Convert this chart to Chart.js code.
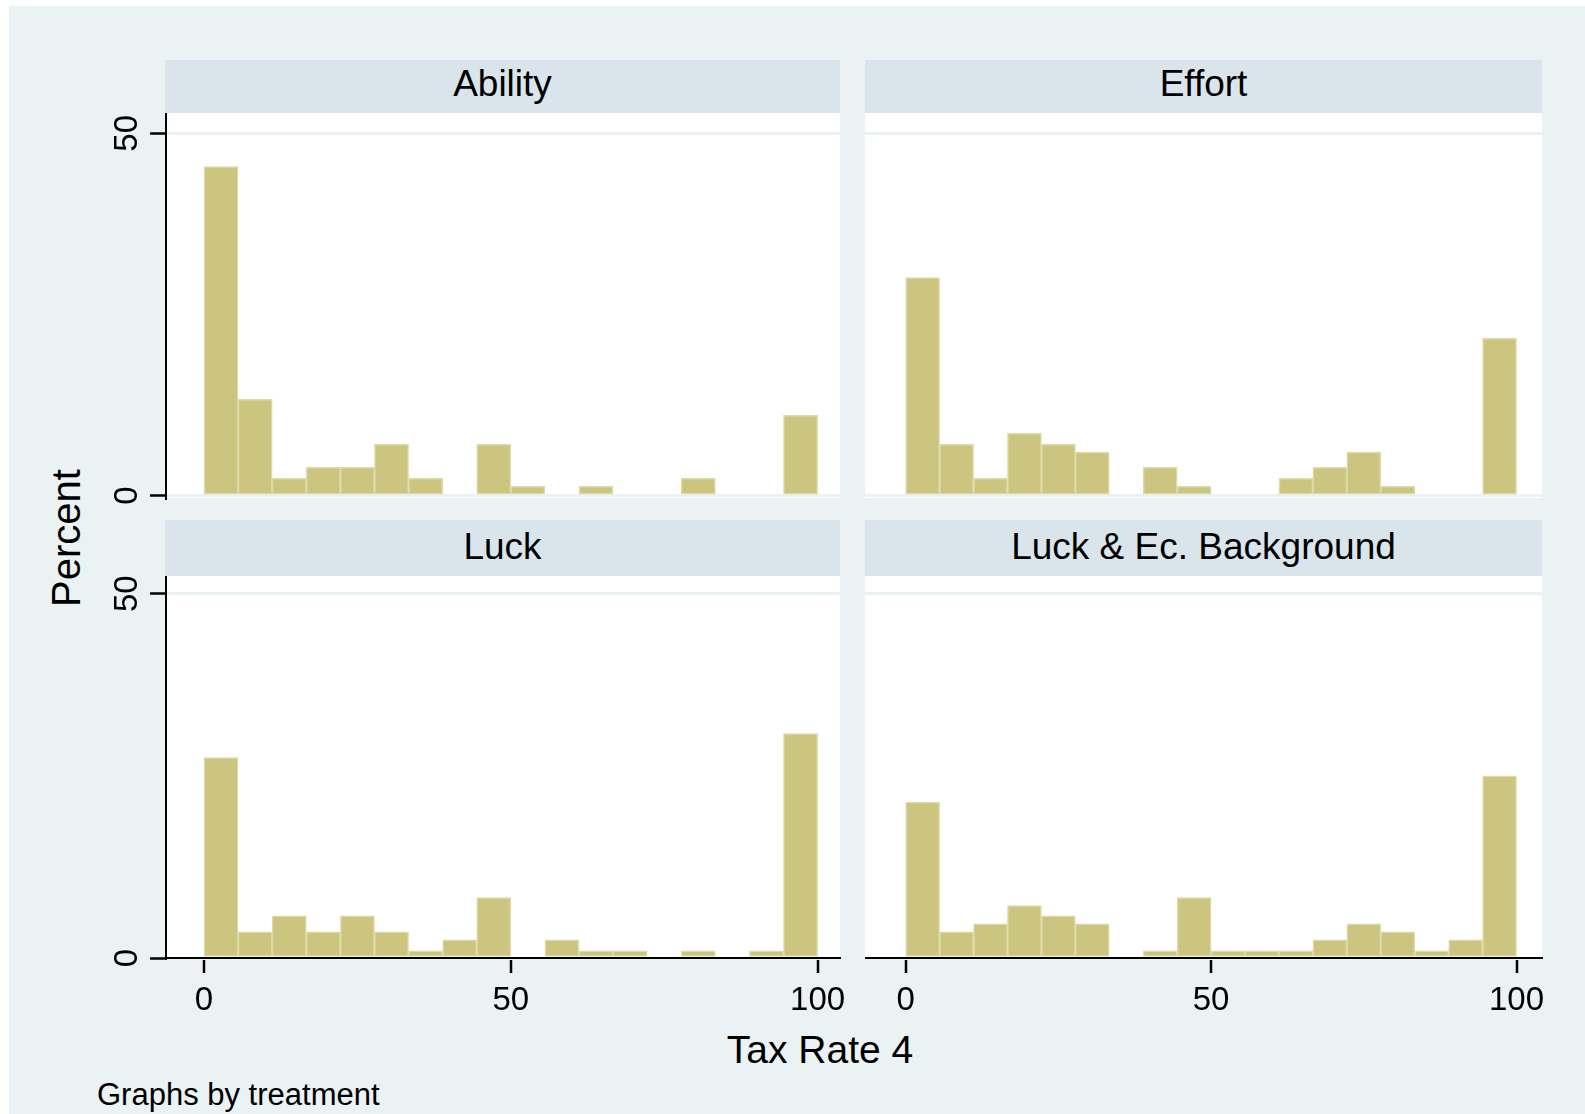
<!DOCTYPE html>
<html>
<head>
<meta charset="utf-8">
<title>Tax Rate 4 by treatment</title>
<script src="https://cdn.jsdelivr.net/npm/chart.js@4.4.1/dist/chart.umd.min.js"></script>
<style>
  body { margin: 0; width: 1585px; height: 1114px; background: #fff; position: relative; overflow: hidden;
         font-family: "Liberation Sans", Arial, sans-serif; }
  #bg { position: absolute; left: 9px; top: 6px; right: 0; bottom: 0; background: #EAF2F3; }
  .strip { position: absolute; background: #D9E5EA; }
  .strip span { position: absolute; left: 0; right: 0; text-align: center; font-size: 37px; line-height: 37px; color: #000; }
  .plot { position: absolute; background: #fff; }
  canvas { position: absolute; }
  .lbl { position: absolute; color: #000; white-space: nowrap; }
</style>
</head>
<body>
<div id="bg"></div>

<div class="strip" style="left:165px;top:60px;width:675px;height:53px"><span id="t0" style="top:5px"></span></div>
<div class="strip" style="left:865px;top:60px;width:677px;height:53px"><span id="t1" style="top:5px"></span></div>
<div class="strip" style="left:165px;top:520px;width:675px;height:56px"><span id="t2" style="top:8px"></span></div>
<div class="strip" style="left:865px;top:520px;width:677px;height:56px"><span id="t3" style="top:8px"></span></div>

<div class="plot" style="left:166px;top:113px;width:674px;height:385px"></div>
<div class="plot" style="left:865px;top:113px;width:677px;height:385px"></div>
<div class="plot" style="left:166px;top:576px;width:674px;height:382px"></div>
<div class="plot" style="left:865px;top:576px;width:677px;height:382px"></div>

<canvas id="c0" style="left:100px;top:113px;width:760px;height:395px"></canvas>
<canvas id="c1" style="left:865px;top:113px;width:697px;height:395px"></canvas>
<canvas id="c2" style="left:100px;top:576px;width:760px;height:442px"></canvas>
<canvas id="c3" style="left:865px;top:576px;width:697px;height:442px"></canvas>

<div class="lbl" style="left:-84px;top:518px;width:300px;height:40px;line-height:40px;font-size:40px;text-align:center;transform:rotate(-90deg)">Percent</div>
<div class="lbl" style="left:620px;top:1030px;width:400px;font-size:39px;line-height:39px;text-align:center">Tax Rate 4</div>
<div class="lbl" style="left:97px;top:1079px;font-size:31px;line-height:31px">Graphs by treatment</div>

<script>
// histogram of Tax Rate 4, percent per bin, 18 bins from 0 to 100
const panelTitles = ["Ability", "Effort", "Luck", "Luck & Ec. Background"];
const binCount = 18;
const binWidth = 100 / binCount;
const binCenters = Array.from({ length: binCount }, (_, i) => (i + 0.5) * binWidth);

const abilityPct = [45.4, 13.3, 2.4, 3.9, 3.9, 7.1, 2.4, 0, 7.1, 1.3, 0, 1.3, 0, 0, 2.4, 0, 0, 11.1];
const effortPct  = [30.1, 7.1, 2.4, 8.6, 7.1, 6.0, 0, 3.9, 1.3, 0, 0, 2.4, 3.9, 6.0, 1.3, 0, 0, 21.7];
const luckPct    = [27.5, 3.6, 5.8, 3.6, 5.8, 3.6, 1.0, 2.5, 8.3, 0, 2.5, 1.0, 1.0, 0, 1.0, 0, 1.0, 30.8];
const luckEcPct  = [21.4, 3.6, 4.7, 7.2, 5.8, 4.7, 0, 1.0, 8.3, 1.0, 1.0, 1.0, 2.5, 4.7, 3.6, 1.0, 2.5, 25.0];

const xTicks = [0, 50, 100];
const yTicks = [0, 50];

const fontFamily = '"Liberation Sans", Arial, sans-serif';
const barFill = "#CCC57F";
const barLine = "#DEDAA8";
const gridColor = "#EAF2F3";

function makeHist(canvasId, values, opt) {
  const ctx = document.getElementById(canvasId).getContext("2d");
  return new Chart(ctx, {
    type: "bar",
    data: {
      datasets: [{
        data: binCenters.map((c, i) => ({ x: c, y: values[i] })),
        backgroundColor: barFill,
        borderColor: barLine,
        borderWidth: 1.5,
        borderSkipped: false,
        barPercentage: 1,
        categoryPercentage: 1
      }]
    },
    options: {
      responsive: false,
      animation: false,
      events: [],
      layout: { padding: { top: 0, left: 0, right: 20, bottom: opt.showX ? 0 : 10 } },
      plugins: { legend: { display: false }, tooltip: { enabled: false } },
      scales: {
        x: {
          type: "linear",
          position: "bottom",
          display: opt.showX,
          offset: false,
          min: opt.xRange[0],
          max: opt.xRange[1],
          afterBuildTicks: s => { s.ticks = xTicks.map(v => ({ value: v })); },
          afterFit: s => { s.height = opt.showX ? 60 : 0; s.paddingLeft = 0; s.paddingRight = 0; },
          ticks: { color: "#000", font: { size: 33, family: fontFamily }, padding: 8, maxRotation: 0, autoSkip: false },
          grid: { offset: false, drawOnChartArea: false, color: "#000", lineWidth: 2,
                  tickLength: 15, tickColor: "#000", tickWidth: 2.5 },
          border: { color: "#000", width: 2 }
        },
        y: {
          min: opt.yRange[0],
          max: opt.yRange[1],
          afterBuildTicks: s => { s.ticks = yTicks.map(v => ({ value: v })); },
          afterFit: s => { s.width = opt.showY ? 66 : 0; s.paddingTop = 0; s.paddingBottom = 0; },
          ticks: {
            display: opt.showY,
            color: "#000",
            font: { size: 33, family: fontFamily },
            minRotation: 90,
            crossAlign: "center",
            padding: 4,
            autoSkip: false
          },
          grid: { color: gridColor, lineWidth: 3, drawTicks: opt.showY, tickLength: 16, tickColor: "#000", tickWidth: 2.5 },
          border: { display: opt.showY, color: "#000", width: 2 }
        }
      }
    }
  });
}

panelTitles.forEach((t, i) => { document.getElementById("t" + i).textContent = t; });

makeHist("c0", abilityPct, { showX: false, showY: true,  xRange: [-6.2, 103.65], yRange: [-0.32, 52.8] });
makeHist("c1", effortPct,  { showX: false, showY: false, xRange: [-6.66, 104.17], yRange: [-0.32, 52.8] });
makeHist("c2", luckPct,    { showX: true,  showY: true,  xRange: [-6.2, 103.65], yRange: [0, 52.42] });
makeHist("c3", luckEcPct,  { showX: true,  showY: false, xRange: [-6.66, 104.17], yRange: [0, 52.42] });
</script>
</body>
</html>
